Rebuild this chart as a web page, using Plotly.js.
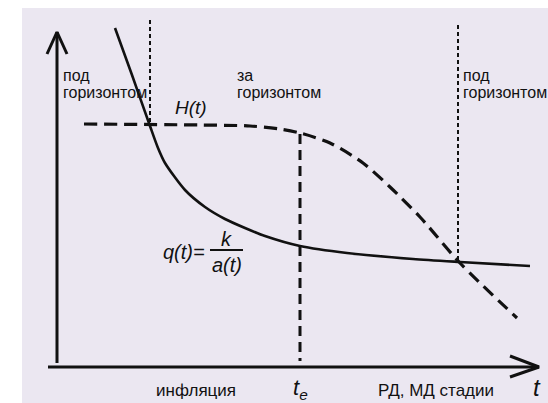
<!DOCTYPE html>
<html>
<head>
<meta charset="utf-8">
<script src="https://cdn.plot.ly/plotly-3.0.1.min.js"></script>
<style>html,body{margin:0;padding:0;background:#fff;}#chart{width:548px;height:403px;}</style>
</head>
<body>
<div id="chart"></div>
<script>
// q(t) = k / a(t)  (solid curve)
const qT = [1.45, 1.875, 2.325, 2.525, 2.7, 3.2, 3.7, 4.2, 4.7, 5.2, 6.075, 7.25, 8.9, 10.075, 11.825];
const qV = [8.475, 7.3, 6.025, 5.475, 5.1, 4.425, 4.0, 3.7, 3.475, 3.275, 3.025, 2.85, 2.7, 2.625, 2.525];
// H(t) (dashed curve)
const hT = [0.675, 3.575, 4.825, 5.575, 6.075, 6.825, 7.65, 8.325, 9.075, 10.075, 11.5];
const hV = [6.075, 6.05, 6.025, 5.95, 5.85, 5.6, 5.1, 4.5, 3.75, 2.6, 1.225];
// horizon crossings (dotted) and end of inflation t_e (dashed)
const cross1T = 2.325, cross1Top = 8.675, cross1Bot = 6.0;
const cross2T = 10.025, cross2Top = 8.55, cross2Bot = 2.6;
const tE = 6.075, tETop = 5.825;
// axes
const yAxisT = 0, yAxisBot = 0.1, yAxisTop = 8.375;
const xAxisV = 0, xAxisLeft = -0.225, xAxisRight = 12.05;
// region labels
const regionLine1 = ['под', 'за', 'под'];
const regionLine2 = ['горизонтом', 'горизонтом', 'горизонтом'];
const regionT = [0.1, 4.45, 10.1];
const bottomLabels = ['инфляция', 'РД, МД стадии'];
const bottomT = [3.475, 9.475];

const black = '#111';
const traces = [];
function line(x, y, w, dash, shape, smooth) {
  traces.push({x: x, y: y, mode: 'lines', hoverinfo: 'skip', showlegend: false,
    line: {color: black, width: w, dash: dash || 'solid', shape: shape || 'linear', smoothing: smooth || 0.6}});
}
// axes + arrows
line([yAxisT, yAxisT], [yAxisBot, yAxisTop], 3);
line([yAxisT - 0.25, yAxisT, yAxisT + 0.25], [yAxisTop - 0.55, yAxisTop, yAxisTop - 0.55], 3);
line([xAxisLeft, xAxisRight], [xAxisV, xAxisV], 3);
line([xAxisRight - 0.725, xAxisRight, xAxisRight - 0.725], [xAxisV + 0.275, xAxisV, xAxisV - 0.25], 3);
// dotted horizon lines
line([cross1T, cross1T], [cross1Top, cross1Bot], 2, '4px,3px');
line([cross2T, cross2T], [cross2Top, cross2Bot], 2, '4px,3px');
// t_e dashed
line([tE, tE], [tETop, xAxisV + 0.15], 3, '10px,6px');
// curves
line(hT, hV, 3.2, '13px,7px', 'spline', 0.8);
line(qT, qV, 2.6, 'solid', 'spline', 0.7);

const font = 'Liberation Sans, Arial, sans-serif';
const ann = [];
function txt(x, y, text, size, anchor, italic) {
  ann.push({x: x, y: y, xref: 'x', yref: 'y', text: italic ? '<i>' + text + '</i>' : text,
    showarrow: false, xanchor: anchor || 'left', yanchor: 'middle',
    font: {family: font, size: size, color: black}});
}
for (let i = 0; i < regionT.length; i++) {
  txt(regionT[i], 7.3, regionLine1[i], 16);
  txt(regionT[i], 6.86, regionLine2[i], 16);
}
txt(3.35, 6.5, 'H(t)', 19, 'center', true);
txt(2.6, 2.875, 'q(t)=', 20, 'left', true);
txt(4.24, 3.2, 'k', 20, 'center', true);
txt(4.24, 2.55, 'a(t)', 20, 'center', true);
line([3.825, 4.65], [2.925, 2.925], 2.2);
txt(bottomT[0], -0.58, bottomLabels[0], 17, 'center');
txt(bottomT[1], -0.58, bottomLabels[1], 17, 'center');
txt(tE, -0.55, 't<sub>e</sub>', 22, 'center', true);
txt(12.0, -0.52, 't', 24, 'center', true);

const layout = {
  width: 548, height: 403,
  margin: {l: 0, r: 0, t: 0, b: 0},
  paper_bgcolor: '#ffffff', plot_bgcolor: 'rgba(0,0,0,0)',
  xaxis: {range: [-1.425, 12.275], visible: false, fixedrange: true},
  yaxis: {range: [-0.9, 9.175], visible: false, fixedrange: true},
  shapes: [{type: 'rect', xref: 'paper', yref: 'paper', x0: 22/548, x1: 1, y0: 0, y1: 1 - 8/403,
    fillcolor: '#ebe7f1', line: {width: 0}, layer: 'below'}],
  annotations: ann
};
Plotly.newPlot('chart', traces, layout, {staticPlot: true, displayModeBar: false});
</script>
</body>
</html>
